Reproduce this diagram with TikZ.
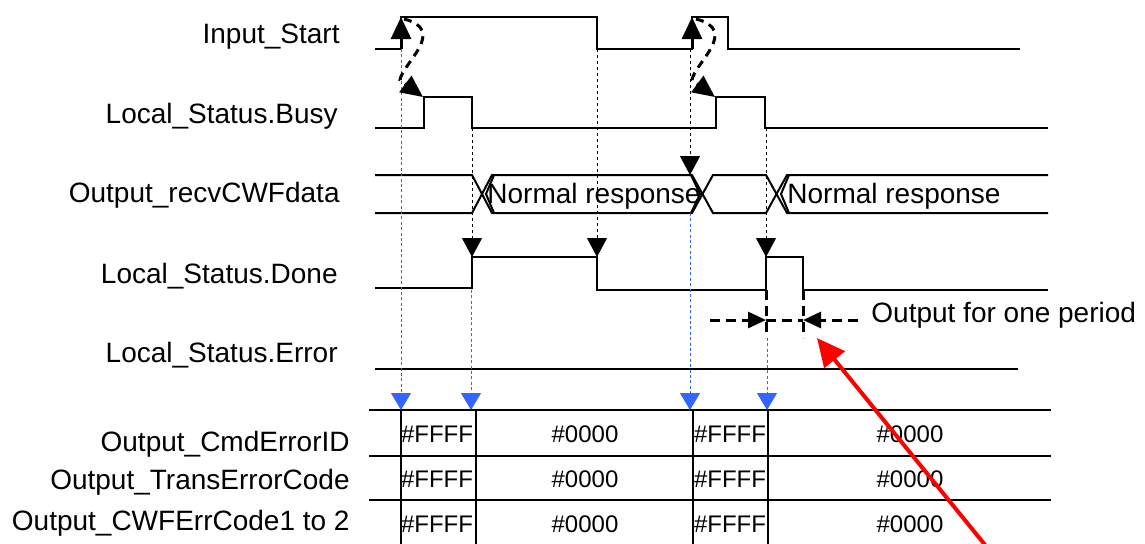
\documentclass[tikz,border=0pt]{standalone}
\usepackage{fontspec}
\setmainfont{Liberation Sans}
\usetikzlibrary{arrows.meta}
\definecolor{dotblue}{RGB}{51,102,255}
\begin{document}
\begin{tikzpicture}[x=0.5pt,y=-0.5pt,
 sig/.style={line width=1pt, line join=miter},
 lbl/.style={anchor=base east, inner sep=0pt, font=\fontsize{14}{16}\selectfont},
 val/.style={anchor=base, inner sep=0pt, font=\fontsize{12}{14}\selectfont},
 txt/.style={inner sep=0pt, font=\fontsize{14}{16}\selectfont},
 blkdot/.style={line width=0.4pt, dash pattern=on 1.5pt off 1.5pt},
 bludot/.style={dotblue, line width=0.5pt, dash pattern=on 1.5pt off 1.2pt},
 blktip/.style={-{Triangle[length=9.5pt,width=10pt]}},
 blutip/.style={-{Triangle[length=8.5pt,width=10pt]}},
 thickdash/.style={line width=1.5pt, dash pattern=on 5pt off 3pt},
 curvedash/.style={line width=1.5pt, dash pattern=on 4pt off 3pt, -{Triangle[length=11pt,width=10pt]}},
 uparrow/.style={line width=1.5pt, -{Triangle[length=11pt,width=10pt]}},
]
\useasboundingbox (0,0) rectangle (1145,543);

% labels
\node[lbl] (lStart) at (340,43) {Input\_Start};
\node[lbl] (lBusy) at (338,123) {Local\_Status.Busy};
\node[lbl] (lRecv) at (340,202) {Output\_recvCWFdata};
\node[lbl] (lDone) at (338,283) {Local\_Status.Done};
\node[lbl] (lErr) at (338,362) {Local\_Status.Error};
\node[lbl] (lCmd) at (350,451) {Output\_CmdErrorID};
\node[lbl] (lTrans) at (350,489) {Output\_TransErrorCode};
\node[lbl] (lCWF) at (350,530) {Output\_CWFErrCode1 to 2};

% waveforms
\draw[sig] (375,49) -- (401,49) -- (401,17) -- (597,17) -- (597,49) -- (692,49) -- (692,17) -- (728,17) -- (728,49) -- (1020,49);
\draw[sig] (375,128) -- (424,128) -- (424,97) -- (472,97) -- (472,128) -- (716,128) -- (716,97) -- (765,97) -- (765,128) -- (1048,128);
\draw[sig] (375,175) -- (472,175) -- (492,213) -- (692,213) -- (713,175) -- (766,175) -- (787,213) -- (1048,213);
\draw[sig] (375,213) -- (472,213) -- (492,175) -- (692,175) -- (713,213) -- (766,213) -- (787,175) -- (1048,175);
\draw[sig] (494,175) -- (486,194) -- (494,213);
\draw[sig] (691,175) -- (700,194) -- (691,213);
\draw[sig] (789,175) -- (781,194) -- (789,213);
\node[txt, anchor=base west] (nr1) at (487,203) {Normal response};
\node[txt, anchor=base west] (nr2) at (787,203) {Normal response};
\draw[sig] (375,288) -- (472,288) -- (472,257) -- (597,257) -- (597,290) -- (766,290) -- (766,257) -- (803,257) -- (803,290) -- (1048,290);
\draw[sig] (375,369) -- (1018,369);

% table
\foreach \yy in {410,456,500} \draw[sig] (369,\yy) -- (1051,\yy);
\foreach \xx in {401,476,693,768} \draw[sig] (\xx,410) -- (\xx,546);
\foreach \yy/\nm in {442/a,487/b,532/c} {
  \node[val] (f1\nm) at (437,\yy) {\#FFFF};
  \node[val] (z1\nm) at (585,\yy) {\#0000};
  \node[val] (f2\nm) at (730,\yy) {\#FFFF};
  \node[val] (z2\nm) at (910,\yy) {\#0000};
}

% coordinates for connectors
\coordinate (sR1) at (401,49);  \coordinate (sT1) at (401,17);
\coordinate (sR2) at (692,49);  \coordinate (sT2) at (692,17);
\coordinate (bR1) at (423,97);  \coordinate (bR2) at (715,97);
\coordinate (bF1) at (472,128); \coordinate (bF2) at (766,128);
\coordinate (sF1) at (597,49);
\coordinate (dR1) at (472,257); \coordinate (dF1) at (597,257); \coordinate (dR2) at (766,257);
\coordinate (rT2) at (690,175); \coordinate (sR2d) at (690,49);
\coordinate (tb1) at (401,410); \coordinate (tb2) at (471,410); \coordinate (tb3) at (690,410); \coordinate (tb4) at (767,410);
\coordinate (dL1) at (471,290); \coordinate (rB2) at (690,213); \coordinate (pe) at (767,338);

% black dotted arrows
\draw[blkdot, blktip] (bF1) -- (dR1);
\draw[blkdot, blktip] (sF1) -- (dF1);
\draw[blkdot, blktip] (sR2d) -- (rT2);
\draw[blkdot, blktip] (bF2) -- (dR2);
% blue dotted arrows
\draw[bludot, blutip] (sR1) -- (tb1);
\draw[bludot, blutip] (dL1) -- (tb2);
\draw[bludot, blutip] (rB2) -- (tb3);
\draw[bludot, blutip] (pe) -- (tb4);

% start arrows and dashed curves
\draw[uparrow] (sR1) -- (sT1);
\draw[uparrow] (sR2) -- (sT2);
\draw[curvedash] (404,19) .. controls (448,30) and (402,64) .. (400,80) -- (bR1);
\draw[curvedash] (696,19) .. controls (740,30) and (694,64) .. (692,80) -- (bR2);

% one period annotation
\coordinate (p1t) at (766,290); \coordinate (p1b) at (766,338);
\coordinate (p2t) at (803,290); \coordinate (p2b) at (803,338);
\coordinate (pa) at (766,320); \coordinate (pb) at (803,320);
\coordinate (pl) at (710,320); \coordinate (pr) at (858,320);
\draw[thickdash] (p1t) -- (p1b);
\draw[thickdash] (p2t) -- (p2b);
\draw[thickdash] (pa) -- (pb);
\draw[thickdash, -{Triangle[length=9pt,width=8pt]}] (pl) -- (pa);
\draw[thickdash, -{Triangle[length=9pt,width=8pt]}] (pr) -- (pb);
\node[txt, anchor=base west] (op) at (871,322) {Output for one period};

% red arrow
\coordinate (redS) at (990,551);
\coordinate (redT) at (817,338);
\draw[red, line width=2pt, -{Triangle[length=14pt,width=13pt]}] (redS) -- (redT);
\end{tikzpicture}
\end{document}
